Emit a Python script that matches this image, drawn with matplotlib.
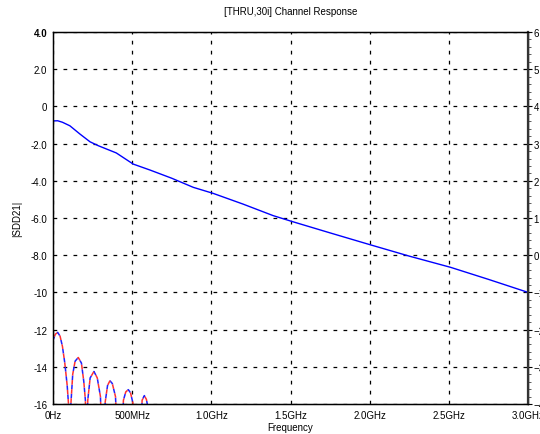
import matplotlib
matplotlib.use('Agg')
import matplotlib.pyplot as plt
from matplotlib.ticker import MultipleLocator

plt.rcParams['font.family'] = ['Liberation Sans', 'DejaVu Sans']

# channel response |SDD21| (GHz, dB)
freq = [0.0, 0.03, 0.06, 0.107, 0.17, 0.234, 0.286, 0.40, 0.507, 0.613, 0.75,
        0.886, 1.01, 1.2, 1.39, 1.507, 1.75, 2.0, 2.25, 2.51, 2.75, 3.0]
sdd21 = [-0.78, -0.77, -0.85, -1.04, -1.48, -1.9, -2.11, -2.5, -3.1, -3.42, -3.86,
         -4.35, -4.67, -5.25, -5.87, -6.18, -6.8, -7.43, -8.05, -8.65, -9.3, -10.0]

# lobed spectrum at the bottom (values below -16 are off the axis)
lobe_f = [0.0, 0.015, 0.03, 0.045, 0.06, 0.075, 0.09, 0.1, 0.105, 0.108,
          0.112, 0.125, 0.14, 0.16, 0.18, 0.195, 0.205, 0.21, 0.214,
          0.22, 0.235, 0.259, 0.28, 0.3, 0.31, 0.322,
          0.33, 0.345, 0.36, 0.375, 0.395, 0.408, 0.435,
          0.445, 0.46, 0.476, 0.49, 0.505, 0.51, 0.555,
          0.563, 0.577, 0.59, 0.598, 0.6, 3.0]
lobe_db = [-12.6, -12.25, -12.15, -12.35, -12.9, -13.8, -15.0, -16.2, -18, -18,
           -16.2, -14.4, -13.7, -13.5, -13.8, -14.8, -15.8, -18, -18,
           -15.8, -14.6, -14.25, -14.6, -15.6, -18, -18,
           -15.9, -15.0, -14.75, -14.9, -15.6, -18, -18,
           -15.8, -15.35, -15.23, -15.4, -15.95, -18, -18,
           -15.8, -15.55, -15.75, -16.1, -18, -18]

xticks = [0, 0.5, 1.0, 1.5, 2.0, 2.5, 3.0]
xlabels = ['0Hz', '500MHz', '1.0GHz', '1.5GHz', '2.0GHz', '2.5GHz', '3.0GHz']
yticks = [4, 2, 0, -2, -4, -6, -8, -10, -12, -14, -16]
ylabels = ['4.0', '2.0', '0', '-2.0', '-4.0', '-6.0', '-8.0', '-10', '-12', '-14', '-16']
rticks = [6, 5, 4, 3, 2, 1, 0, -1, -2, -3, -4]

fig = plt.figure(figsize=(5.4, 4.35), dpi=100)
ax = fig.add_axes([0.098, 0.069, 0.880, 0.855])

ax.plot(freq, sdd21, color='#0000ff', lw=1.0)
# two overlapping dashed traces, dashes interleaved
ax.plot(lobe_f, lobe_db, color='#2020ff', lw=1.1, linestyle=(0, (3, 3)))
ax.plot(lobe_f, lobe_db, color='#ff3030', lw=1.1, linestyle=(3, (3, 3)))

ax.set_xlim(0, 3.0)
ax.set_ylim(-16, 4)
ax.set_xticks(xticks)
ax.set_xticklabels(xlabels)
ax.set_yticks(yticks)
ax.set_yticklabels(ylabels)
ax.get_yticklabels()[0].set_fontweight('bold')
ax.tick_params(length=0, labelsize=7, pad=4)
ax.grid(True, color='black', linestyle=(0, (3, 5)), lw=0.9)
for s in ax.spines.values():
    s.set_linewidth(1.0)

ax2 = ax.twinx()
ax2.set_ylim(-4, 6)
ax2.set_yticks(rticks)
ax2.yaxis.set_minor_locator(MultipleLocator(0.2))
ax2.tick_params(axis='y', which='major', length=3, labelsize=7, pad=1)
ax2.tick_params(axis='y', which='minor', length=2, color='#444444')
ax2.spines['right'].set_linewidth(1.6)
ax2.spines['right'].set_color('#333333')

ax.set_title('[THRU,30i] Channel Response', fontsize=7, pad=13)
ax.set_xlabel('Frequency', fontsize=7, labelpad=2)
ax.set_ylabel('|SDD21|', fontsize=7, labelpad=6)

fig.savefig('out.png', dpi=100)
